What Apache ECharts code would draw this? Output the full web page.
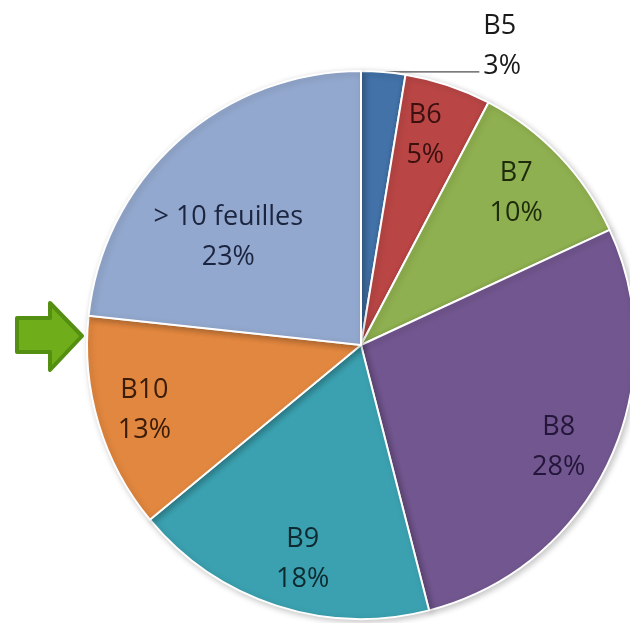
<!DOCTYPE html>
<html>
<head>
<meta charset="utf-8">
<script src="https://cdn.jsdelivr.net/npm/echarts@6/dist/echarts.min.js"></script>
<style>
  html, body { margin: 0; padding: 0; background: #fff; }
  #chart { width: 630px; height: 623px; }
</style>
</head>
<body>
<div id="chart"></div>
<script>
// slices, clockwise from 12 o'clock
const names = ['B5', 'B6', 'B7', 'B8', 'B9', 'B10', '> 10 feuilles']
const values = [2.6, 5.1, 10.4, 27.9, 18.0, 12.7, 23.3]
const colors = ['#4272a8', '#b94645', '#8fb050', '#72568f', '#3ba1b0', '#e2873f', '#93a8ce']
const textColors = ['#1a1a1a', '#3d1010', '#1e2a0c', '#24163a', '#0e2a30', '#3a1c08', '#1c2540']
// small nudges of the inside labels (px)
const labelNudge = [[0, 0], [-6, 0], [-5, 1], [-2, 8], [10, 4], [-5, 2], [15, 57]]

const CENTER = [361, 345]
const R = 274
const FONT = '"Open Sans"'
const FS = 27

const chart = echarts.init(document.getElementById('chart'))

const baseData = names.map((n, i) => ({
  name: n,
  value: values[i],
  itemStyle: { color: colors[i] }
}))

const labelData = names.map((n, i) => {
  const item = {
    name: n,
    value: values[i],
    label: { color: textColors[i] }
  }
  if (i === 0) {
    // small slice: label outside, text sits above the leader line
    item.label = {
      position: 'outside',
      color: textColors[i],
      align: 'left',
      distanceToLabelLine: 4,
      formatter: p => '{a|' + p.name + '}\n{a|' + Math.round(p.percent) + '%}\n{s| }',
      rich: {
        a: { fontFamily: FONT, fontSize: FS, lineHeight: 40, color: textColors[i] },
        s: { fontSize: 10, lineHeight: 52 }
      }
    }
    item.labelLine = {
      show: true,
      length: 0,
      length2: 96,
      lineStyle: { color: '#222', width: 1 }
    }
  }
  return item
})

chart.setOption({
  animation: false,
  backgroundColor: '#fff',
  graphic: [
    {
      type: 'polygon',
      shape: {
        points: [[17, 318], [50, 318], [50, 303], [82, 336], [50, 370], [50, 352], [17, 352]]
      },
      style: { fill: '#6fae1a', stroke: '#548f12', lineWidth: 4, lineJoin: 'round' }
    }
  ],
  series: [
    {
      type: 'pie',
      center: CENTER,
      radius: R,
      startAngle: 90,
      clockwise: true,
      silent: true,
      label: { show: false },
      labelLine: { show: false },
      itemStyle: {
        borderColor: '#fff',
        borderWidth: 2,
        shadowBlur: 6,
        shadowOffsetX: 2,
        shadowOffsetY: 2,
        shadowColor: 'rgba(0,0,0,0.22)'
      },
      data: baseData
    },
    {
      // transparent ring, only used to place labels at ~0.8 R
      type: 'pie',
      center: CENTER,
      radius: [162, R],
      startAngle: 90,
      clockwise: true,
      silent: true,
      avoidLabelOverlap: false,
      itemStyle: { color: 'rgba(0,0,0,0)' },
      label: {
        show: true,
        position: 'inside',
        fontFamily: FONT,
        fontSize: FS,
        lineHeight: 40,
        formatter: p => p.name + '\n' + Math.round(p.percent) + '%'
      },
      labelLine: { show: false },
      labelLayout: p => (p.dataIndex === 0 ? {} : { dx: labelNudge[p.dataIndex][0], dy: labelNudge[p.dataIndex][1] }),
      data: labelData
    }
  ]
})
</script>
</body>
</html>
